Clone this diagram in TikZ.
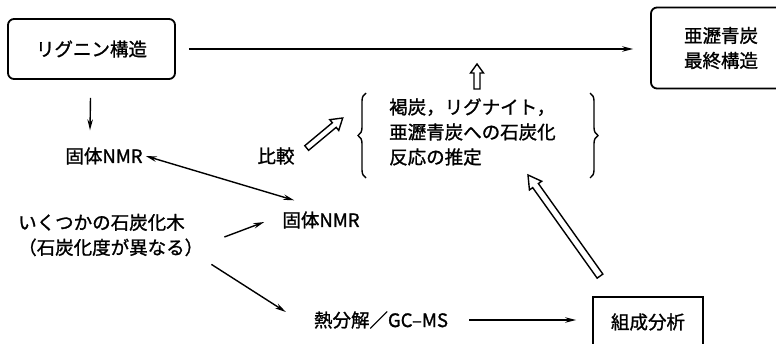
\documentclass[tikz,border=0pt]{standalone}
\usepackage{fontspec}
\setmainfont{Noto Sans CJK JP}[FakeBold=1.2]
\usetikzlibrary{calc,decorations.pathreplacing,arrows.meta}
\tikzset{
  txt/.style={inner sep=0pt, font=\fontsize{18.5}{25}\selectfont},
  rbox/.style={draw, line width=1.8pt, rounded corners=6pt, txt},
  sbox/.style={draw, line width=1.8pt, txt},
  arr/.style={line width=1.4pt, -{Stealth[length=11pt,width=5.5pt]}},
  darr/.style={line width=1.4pt, {Stealth[length=11pt,width=5.5pt]}-{Stealth[length=11pt,width=5.5pt]}},
  hollowline/.style={line width=1.4pt, line join=miter, fill=white},
  bracestyle/.style={line width=1.4pt, decorate, decoration={brace, amplitude=8pt}}
}
\newcommand\hollowarrow[5]{% from, to, shaft half width, head half width, head length
  \coordinate (hh) at ($(#2)!#5!(#1)$);
  \draw[hollowline] ($(#1)!#3!90:(#2)$) -- ($(hh)!#3!-90:(#1)$) -- ($(hh)!#4!-90:(#1)$) -- (#2)
     -- ($(hh)!#4!90:(#1)$) -- ($(hh)!#3!90:(#1)$) -- ($(#1)!#3!-90:(#2)$) -- cycle;
}
\begin{document}
\begin{tikzpicture}[x=1pt,y=-1pt]
\useasboundingbox (0,0) rectangle (776,343);
\clip (0,0) rectangle (776,343);
% nodes
\node[rbox, minimum width=167pt, minimum height=60pt] (lig) at (91.5,49) {リグニン構造};
\node[rbox, minimum width=140pt, minimum height=81pt, align=center] (fin) at (721,48) {亜瀝青炭\\最終構造};
\node[txt] (nmr1) at (104,156) {固体NMR};
\node[txt] (hik) at (276,156) {比較};
\node[txt, align=left, anchor=west] (est) at (389,132) {褐炭，リグナイト，\\亜瀝青炭への石炭化\\反応の推定};
\node[txt, align=left, anchor=west] (ws) at (18,235) {いくつかの石炭化木\\（石炭化度が異なる）};
\node[txt] (nmr2) at (321,220) {固体NMR};
\node[txt] (pyro) at (381,320) {熱分解／GC–MS};
\node[sbox, minimum width=110pt, minimum height=50pt] (comp) at (648,322) {組成分析};
% braces
\coordinate (bl1) at (366,178);
\coordinate (bl2) at (366,93);
\coordinate (br1) at (590,93);
\coordinate (br2) at (590,178);
\draw[bracestyle] (bl1) -- (bl2);
\draw[bracestyle] (br1) -- (br2);
% connectors
\draw[arr] ($(lig.east)+(13,0)$) -- ($(lig.east -| fin.west)+(-17,0)$);
\draw[arr] ($(lig.south)+(-1,18)$) -- ($(nmr1.north)+(-14,-17)$);
\draw[darr] ($(nmr1.east)+(3,0)$) -- ($(nmr2.north west)+(12,-11)$);
\draw[arr] ($(ws.east)+(21,2)$) -- ($(nmr2.west)+(-18,2)$);
\draw[arr] ($(ws.south east)+(8,8)$) -- ($(pyro.west)+(-28,-8)$);
\draw[arr] ($(pyro.east)+(21,0)$) -- ($(comp.west)+(-16,-2)$);
% hollow arrows
\coordinate (h1a) at ($(hik.east)+(12,-8)$);
\coordinate (h1b) at ($(h1a)+(36,-30)$);
\hollowarrow{h1a}{h1b}{3pt}{7pt}{11pt}
\coordinate (h2a) at (477,89);
\coordinate (h2b) at ($(lig.east -| h2a)+(0,15)$);
\hollowarrow{h2a}{h2b}{3pt}{6.5pt}{9pt}
\coordinate (h3a) at ($(comp.north)+(-48,-20)$);
\coordinate (h3b) at (528,175);
\hollowarrow{h3a}{h3b}{3.5pt}{7.5pt}{13pt}
\end{tikzpicture}
\end{document}
